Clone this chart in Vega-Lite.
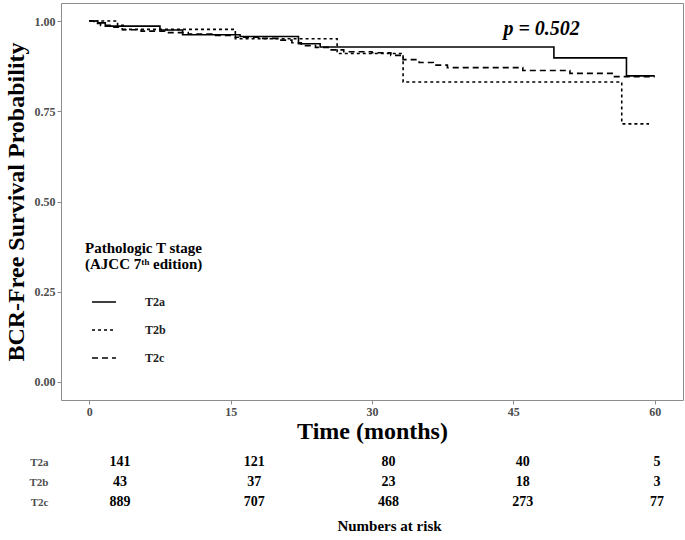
{
  "$schema": "https://vega.github.io/schema/vega-lite/v6.json",
  "background": "white",
  "padding": {"left": 3, "top": 2, "right": 0, "bottom": 0},
  "spacing": 8,
  "config": {
    "font": "Liberation Serif",
    "view": {"stroke": null}
  },
  "datasets": {
    "km": [
      {"group": "T2a", "time": 0, "surv": 1.0},
      {"group": "T2a", "time": 0.9, "surv": 0.995},
      {"group": "T2a", "time": 1.7, "surv": 0.986},
      {"group": "T2a", "time": 7.5, "surv": 0.975},
      {"group": "T2a", "time": 9.9, "surv": 0.962},
      {"group": "T2a", "time": 16.0, "surv": 0.957},
      {"group": "T2a", "time": 22.2, "surv": 0.937},
      {"group": "T2a", "time": 24.5, "surv": 0.928},
      {"group": "T2a", "time": 49.3, "surv": 0.898},
      {"group": "T2a", "time": 57.0, "surv": 0.848},
      {"group": "T2a", "time": 60.0, "surv": 0.848},
      {"group": "T2b", "time": 0, "surv": 1.0},
      {"group": "T2b", "time": 3.0, "surv": 0.988},
      {"group": "T2b", "time": 3.6, "surv": 0.977},
      {"group": "T2b", "time": 15.5, "surv": 0.951},
      {"group": "T2b", "time": 26.3, "surv": 0.91},
      {"group": "T2b", "time": 33.3, "surv": 0.831},
      {"group": "T2b", "time": 56.5, "surv": 0.715},
      {"group": "T2b", "time": 59.4, "surv": 0.715},
      {"group": "T2c", "time": 0, "surv": 1.0},
      {"group": "T2c", "time": 0.5, "surv": 0.993},
      {"group": "T2c", "time": 1.2, "surv": 0.988},
      {"group": "T2c", "time": 2.2, "surv": 0.983},
      {"group": "T2c", "time": 3.5, "surv": 0.976},
      {"group": "T2c", "time": 5.5, "surv": 0.972},
      {"group": "T2c", "time": 8.0, "surv": 0.968},
      {"group": "T2c", "time": 10.5, "surv": 0.964},
      {"group": "T2c", "time": 13.0, "surv": 0.96},
      {"group": "T2c", "time": 15.5, "surv": 0.955},
      {"group": "T2c", "time": 18.0, "surv": 0.952},
      {"group": "T2c", "time": 20.0, "surv": 0.947},
      {"group": "T2c", "time": 21.5, "surv": 0.94},
      {"group": "T2c", "time": 22.5, "surv": 0.932},
      {"group": "T2c", "time": 24.0, "surv": 0.927},
      {"group": "T2c", "time": 25.5, "surv": 0.92},
      {"group": "T2c", "time": 27.0, "surv": 0.915},
      {"group": "T2c", "time": 30.0, "surv": 0.912},
      {"group": "T2c", "time": 32.0, "surv": 0.905},
      {"group": "T2c", "time": 33.3, "surv": 0.893},
      {"group": "T2c", "time": 35.0, "surv": 0.885},
      {"group": "T2c", "time": 36.5, "surv": 0.878},
      {"group": "T2c", "time": 38.0, "surv": 0.871},
      {"group": "T2c", "time": 46.0, "surv": 0.863},
      {"group": "T2c", "time": 51.0, "surv": 0.855},
      {"group": "T2c", "time": 55.6, "surv": 0.846},
      {"group": "T2c", "time": 60.0, "surv": 0.846}
    ],
    "risk": [
      {"group": "T2a", "time": 0, "n": 141},
      {"group": "T2a", "time": 15, "n": 121},
      {"group": "T2a", "time": 30, "n": 80},
      {"group": "T2a", "time": 45, "n": 40},
      {"group": "T2a", "time": 60, "n": 5},
      {"group": "T2b", "time": 0, "n": 43},
      {"group": "T2b", "time": 15, "n": 37},
      {"group": "T2b", "time": 30, "n": 23},
      {"group": "T2b", "time": 45, "n": 18},
      {"group": "T2b", "time": 60, "n": 3},
      {"group": "T2c", "time": 0, "n": 889},
      {"group": "T2c", "time": 15, "n": 707},
      {"group": "T2c", "time": 30, "n": 468},
      {"group": "T2c", "time": 45, "n": 273},
      {"group": "T2c", "time": 60, "n": 77}
    ],
    "pval": [{"x": 48, "y": 0.978, "label": "p = 0.502"}]
  },
  "vconcat": [
    {
      "width": 622,
      "height": 397,
      "view": {"stroke": "#8c8c8c", "strokeWidth": 1},
      "layer": [
        {
          "data": {"name": "km"},
          "mark": {"type": "line", "interpolate": "step-after", "color": "black", "strokeWidth": 1.6},
          "encoding": {
            "x": {
              "field": "time", "type": "quantitative",
              "scale": {"domain": [-3, 63], "nice": false, "zero": false},
              "axis": {
                "values": [0, 15, 30, 45, 60], "title": "Time (months)",
                "titleFontSize": 24, "titleFontWeight": "bold", "titleColor": "black",
                "labelFontSize": 12, "labelFontWeight": "bold", "labelColor": "#4d4d4d",
                "tickColor": "#8c8c8c", "tickSize": 4, "domain": false, "grid": false,
                "labelPadding": 2, "titlePadding": 2
              }
            },
            "y": {
              "field": "surv", "type": "quantitative",
              "scale": {"domain": [-0.05, 1.05], "nice": false, "zero": false},
              "axis": {
                "values": [0, 0.25, 0.5, 0.75, 1], "format": ".2f",
                "title": "BCR-Free Survival Probability",
                "titleFontSize": 24, "titleFontWeight": "bold", "titleColor": "black",
                "labelFontSize": 12, "labelFontWeight": "bold", "labelColor": "#4d4d4d",
                "tickColor": "#8c8c8c", "tickSize": 4, "domain": false, "grid": false,
                "labelPadding": 2, "titlePadding": 6
              }
            },
            "strokeDash": {
              "field": "group", "type": "nominal",
              "scale": {"domain": ["T2a", "T2b", "T2c"], "range": [[1, 0], [3, 3], [6, 4]]},
              "legend": {
                "title": ["Pathologic T stage", "(AJCC 7ᵗʰ edition)"],
                "orient": "none", "legendX": 24, "legendY": 238,
                "titleFontSize": 15, "titleFontWeight": "bold", "titleColor": "black",
                "titleLineHeight": 16, "titlePadding": 17,
                "labelFontSize": 12, "labelFontWeight": "bold", "labelColor": "#222222",
                "labelOffset": 28,
                "symbolType": "stroke", "symbolSize": 576, "symbolStrokeWidth": 1.6,
                "symbolStrokeColor": "black", "symbolOffset": 6,
                "rowPadding": 9, "padding": 0
              }
            }
          }
        },
        {
          "data": {"name": "pval"},
          "mark": {"type": "text", "fontSize": 20, "fontWeight": "bold", "fontStyle": "italic", "color": "black", "align": "center", "baseline": "middle"},
          "encoding": {
            "x": {"field": "x", "type": "quantitative"},
            "y": {"field": "y", "type": "quantitative"},
            "text": {"field": "label"}
          }
        }
      ]
    },
    {
      "width": 622,
      "height": 60,
      "data": {"name": "risk"},
      "mark": {"type": "text", "fontSize": 14, "fontWeight": "bold", "color": "black", "align": "center", "baseline": "middle"},
      "encoding": {
        "x": {
          "field": "time", "type": "quantitative",
          "scale": {"domain": [-6.59, 62.91], "nice": false, "zero": false},
          "axis": {
            "title": "Numbers at risk", "titleFontSize": 15, "titleFontWeight": "bold", "titleColor": "black",
            "titleX": 328, "titleAlign": "center",
            "labels": false, "ticks": false, "domain": false, "grid": false, "titlePadding": 6
          }
        },
        "y": {
          "field": "group", "type": "nominal",
          "scale": {"type": "point", "domain": ["T2a", "T2b", "T2c"], "padding": 0.5},
          "axis": {
            "title": null, "labelFontSize": 11, "labelFontWeight": "bold", "labelColor": "#4d4d4d",
            "ticks": false, "domain": false, "grid": false, "labelPadding": 13
          }
        },
        "text": {"field": "n", "type": "quantitative"}
      }
    }
  ]
}
